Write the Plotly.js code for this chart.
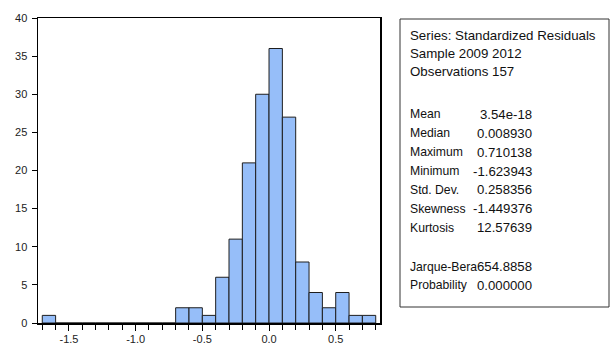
<!DOCTYPE html>
<html>
<head>
<meta charset="utf-8">
<script src="https://cdn.plot.ly/plotly-3.0.1.min.js"></script>
<style>
html,body{margin:0;padding:0;background:#fff;}
#chart{width:613px;height:344px;}
</style>
</head>
<body>
<div id="chart"></div>
<script>
// Histogram bins (width 0.1) and counts
const binCenters = [-1.65,-1.55,-1.45,-1.35,-1.25,-1.15,-1.05,-0.95,-0.85,-0.75,
                    -0.65,-0.55,-0.45,-0.35,-0.25,-0.15,-0.05,0.05,0.15,0.25,
                    0.35,0.45,0.55,0.65,0.75];
const counts = [1,0,0,0,0,0,0,0,0,0,
                2,2,1,6,11,21,30,36,27,8,
                4,2,4,1,1];
const xTickVals = [-1.5,-1.0,-0.5,0.0,0.5];
const xTickText = ["-1.5","-1.0","-0.5","0.0","0.5"];
const yTickVals = [0,5,10,15,20,25,30,35,40];

// Statistics panel
const headerLines = ["Series: Standardized Residuals","Sample 2009 2012","Observations 157"];
const statLabels = ["Mean","Median","Maximum","Minimum","Std. Dev.","Skewness","Kurtosis"];
const statValues = ["3.54e-18","0.008930","0.710138","-1.623943","0.258356","-1.449376","12.57639"];
const testLabels = ["Jarque-Bera","Probability"];
const testValues = ["654.8858","0.000000"];

// layout geometry (pixels)
const W = 613, H = 344;
const L = 38, R = 380, T = 18, B = 323;
const px = x => (x - L) / (R - L);
const py = y => (B - y) / (B - T);

const fam = '"Liberation Sans", Arial, sans-serif';
const headFont = {family: fam, size: 13.3, color: '#111111'};
const labelFont = {family: fam, size: 12.2, color: '#111111'};
const valueFont = {family: fam, size: 13.2, color: '#111111'};
const annotations = [];
function addLine(label, value, y, lf) {
  annotations.push({xref:'paper', yref:'paper', x:px(408.5), y:py(y), xanchor:'left', yanchor:'middle',
    text:label, showarrow:false, font:lf, borderpad:0});
  if (value !== null) {
    annotations.push({xref:'paper', yref:'paper', x:px(532.5), y:py(y), xanchor:'right', yanchor:'middle',
      text:value, showarrow:false, font:valueFont, borderpad:0});
  }
}
headerLines.forEach((h,i) => addLine(h, null, 35.5 + i*17.9, headFont));
statLabels.forEach((s,i) => addLine(s, statValues[i], 114.3 + i*18.9, labelFont));
testLabels.forEach((s,i) => addLine(s, testValues[i], 266.5 + i*18.7, labelFont));

const trace = {
  type: 'bar',
  x: binCenters,
  y: counts,
  width: 0.1,
  marker: {color: '#96BEF9', line: {color: '#1e1e1e', width: 1}},
  hoverinfo: 'x+y'
};

const tickFont = {family: fam, size: 11, color: '#222'};
const layout = {
  width: W, height: H,
  margin: {l: L, r: W - R, t: T, b: H - B, pad: 0},
  paper_bgcolor: '#ffffff',
  plot_bgcolor: '#ffffff',
  showlegend: false,
  bargap: 0,
  xaxis: {
    range: [-1.732, 0.832],
    tickvals: xTickVals, ticktext: xTickText,
    ticks: 'outside', ticklen: 6, tickwidth: 1, tickcolor: '#000',
    ticklabelstandoff: -1,
    minor: {dtick: 0.1, tick0: 0, ticks: 'outside', ticklen: 5, tickwidth: 1, tickcolor: '#000', showgrid: false},
    showline: true, linecolor: '#000', linewidth: 1.5, mirror: true,
    showgrid: false, zeroline: false,
    tickfont: tickFont
  },
  yaxis: {
    range: [0, 40],
    tickvals: yTickVals,
    ticks: 'outside', ticklen: 5, tickwidth: 1, tickcolor: '#000',
    ticklabelstandoff: 2,
    showline: true, linecolor: '#000', linewidth: 1.5, mirror: true,
    showgrid: false, zeroline: false,
    tickfont: tickFont
  },
  shapes: [{
    type: 'rect', xref: 'paper', yref: 'paper',
    x0: px(400), x1: px(609), y0: py(19), y1: py(307),
    line: {color: '#333', width: 1}, fillcolor: 'rgba(0,0,0,0)'
  }],
  annotations: annotations
};

Plotly.newPlot('chart', [trace], layout, {displayModeBar: false, staticPlot: true});
</script>
</body>
</html>
